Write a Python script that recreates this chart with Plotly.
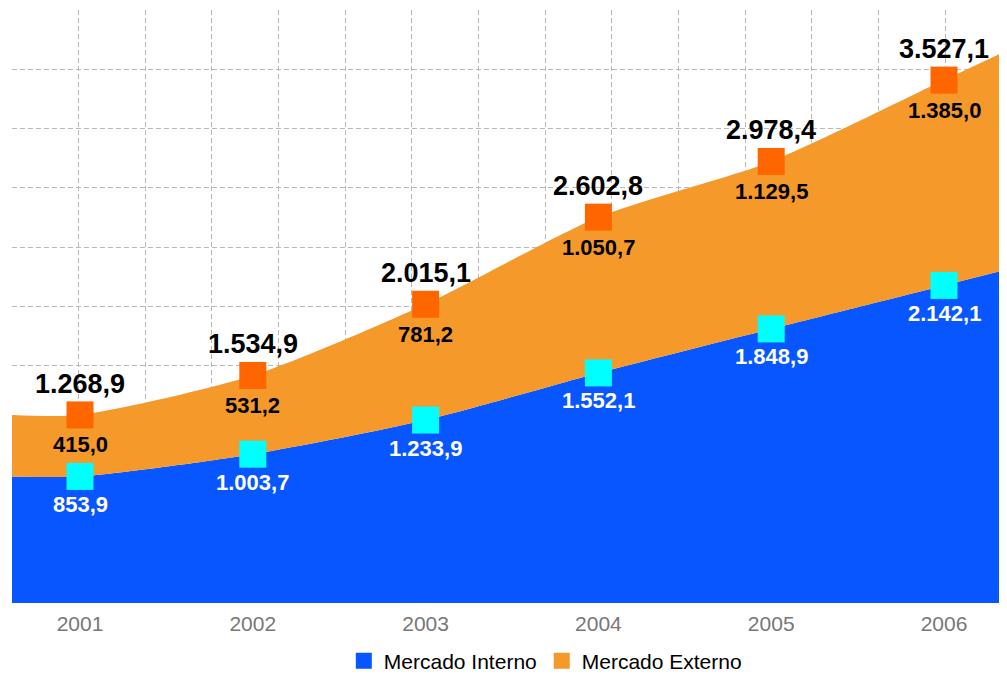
import plotly.graph_objects as go

years = [2001, 2002, 2003, 2004, 2005, 2006]
interno = [853.9, 1003.7, 1233.9, 1552.1, 1848.9, 2142.1]
externo = [415.0, 531.2, 781.2, 1050.7, 1129.5, 1385.0]
total = [1268.9, 1534.9, 2015.1, 2602.8, 2978.4, 3527.1]
series_names = ["Mercado Interno", "Mercado Externo"]


def fmt(v):
    s = f"{v:,.1f}"
    return s.replace(",", "X").replace(".", ",").replace("X", ".")


BLUE = "#0856FF"
ORANGE = "#F4992A"
MK_ORANGE = "#FF6600"
CYAN = "#00FFFF"
GRID = "#b8b8b8"
FONT = "Liberation Sans, Arial, sans-serif"

X_MIN, X_MAX = 2000.6065, 2006.3646
Y_MAX = 4000
N_COLS = 14.93


def extend(vals):
    # left: held flat; right: continue the last segment's trend to the plot edge
    right = vals[-1] + (vals[-1] - vals[-2]) * (X_MAX - years[-1]) / (years[-1] - years[-2])
    return [vals[0]] + vals + [right]


ax_x = [X_MIN] + years + [X_MAX]
ax_int = extend(interno)
ax_tot = extend(total)

fig = go.Figure()
fig.add_trace(go.Scatter(x=ax_x, y=ax_int, mode="lines",
                         line=dict(width=0, shape="spline", smoothing=0.7, color=BLUE),
                         fill="tozeroy", fillcolor=BLUE, showlegend=False, hoverinfo="skip"))
fig.add_trace(go.Scatter(x=ax_x, y=ax_tot, mode="lines",
                         line=dict(width=0, shape="spline", smoothing=0.7, color=ORANGE),
                         fill="tonexty", fillcolor=ORANGE, showlegend=False, hoverinfo="skip"))

# markers on overlay subplot (drawn above the grid)
fig.add_trace(go.Scatter(x=years, y=interno, mode="markers", xaxis="x2", yaxis="y2",
                         marker=dict(symbol="square", size=27, color=CYAN), showlegend=False))
fig.add_trace(go.Scatter(x=years, y=total, mode="markers", xaxis="x2", yaxis="y2",
                         marker=dict(symbol="square", size=27, color=MK_ORANGE), showlegend=False))

# legend entries
fig.add_trace(go.Scatter(x=[None], y=[None], mode="markers", xaxis="x2", yaxis="y2", name=series_names[0],
                         marker=dict(symbol="square", size=22, color=BLUE)))
fig.add_trace(go.Scatter(x=[None], y=[None], mode="markers", xaxis="x2", yaxis="y2", name=series_names[1],
                         marker=dict(symbol="square", size=22, color=ORANGE)))

ann = []
for yr, vi, ve, vt in zip(years, interno, externo, total):
    ann.append(dict(x=yr, y=vt, text=fmt(vt), showarrow=False, yshift=31,
                    font=dict(family=FONT, size=27, color="black", weight="bold")))
    ann.append(dict(x=yr, y=vt, text=fmt(ve), showarrow=False, yshift=-30,
                    font=dict(family=FONT, size=22, color="black", weight="bold")))
    ann.append(dict(x=yr, y=vi, text=fmt(vi), showarrow=False, yshift=-28,
                    font=dict(family=FONT, size=22, color="white", weight="bold")))

fig.update_layout(
    width=999, height=667,
    margin=dict(l=4, r=0, t=2, b=72, autoexpand=False),
    paper_bgcolor="white", plot_bgcolor="white",
    showlegend=True,
    legend=dict(orientation="h", traceorder="normal", x=0.536, xanchor="center", y=-0.098, yanchor="middle",
                font=dict(family=FONT, size=21, color="black"),
                bgcolor="rgba(0,0,0,0)"),
    xaxis=dict(range=[X_MIN, X_MAX], tickvals=years, ticktext=[str(y) for y in years],
               showgrid=False, zeroline=False, showline=False, ticks="",
               tickfont=dict(family=FONT, size=21, color="#777777"),
               ticklabelstandoff=6),
    yaxis=dict(range=[0, Y_MAX], showgrid=False, zeroline=False, showticklabels=False, ticks=""),
    xaxis2=dict(matches="x", overlaying="x", anchor="y2", showgrid=True, gridcolor=GRID, gridwidth=1,
                griddash="5px,3px", tick0=X_MIN, dtick=(X_MAX - X_MIN) / N_COLS,
                showticklabels=False, zeroline=False, ticks=""),
    yaxis2=dict(matches="y", overlaying="y", anchor="x2", showgrid=True, gridcolor=GRID, gridwidth=1,
                griddash="5px,3px", tick0=0, dtick=400, showticklabels=False, zeroline=False, ticks=""),
    annotations=ann,
)

fig.write_html("out.html")
